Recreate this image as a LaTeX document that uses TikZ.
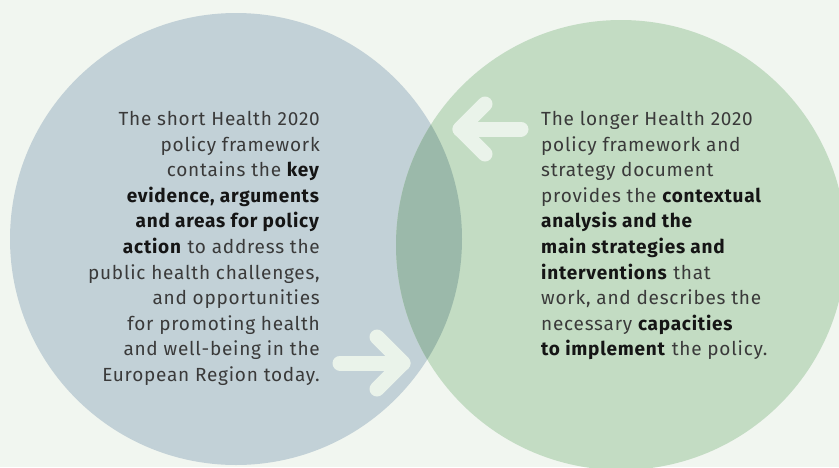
\documentclass[tikz,border=0pt]{standalone}
\usepackage{fontspec}
\setmainfont{Fira Sans}[LetterSpace=4]
\usetikzlibrary{positioning}
\definecolor{bgcol}{HTML}{F1F6F0}
\definecolor{shortcol}{HTML}{C2D1D7}
\definecolor{longcol}{HTML}{C3DCC3}
\definecolor{bothcol}{HTML}{9BB9AA}
\definecolor{arrowcol}{HTML}{EAF3EA}
\definecolor{textgrey}{HTML}{3A3A3A}
\definecolor{textdark}{HTML}{151515}
\newcommand{\hl}[1]{\textcolor{textdark}{\textbf{#1}}}

\begin{document}
\begin{tikzpicture}[x=1pt, y=-1pt,
    blurb/.style={inner sep=0pt, text=textgrey, font=\fontsize{19}{25.6}\selectfont},
    pointer/.style={draw=arrowcol, line width=15pt, line cap=round, line join=round}]
      \useasboundingbox (0,0) rectangle (839,467);
      \clip (0,0) rectangle (839,467);
      \fill[bgcol] (0,0) rectangle (839,467);
      % Define circles
      \coordinate (cs) at (236,239);
      \coordinate (cl) at (621,245);
      \fill[shortcol] (cs) circle[radius=226pt];
      \fill[longcol] (cl) circle[radius=225pt];
      \begin{scope}
        \clip (cs) circle[radius=226pt];
        \fill[bothcol] (cl) circle[radius=225pt];
      \end{scope}
      % Define arrows
      \coordinate (backtip) at (460,129);
      \coordinate (backtail) at (521,129);
      \coordinate (fwdtip) at (403,363);
      \coordinate (fwdtail) at (340,363);
      \draw[pointer] (485,104) -- (backtip) -- (485,154);
      \draw[pointer] (backtip) -- (backtail);
      \draw[pointer] (377,337) -- (fwdtip) -- (377,389);
      \draw[pointer] (fwdtail) -- (fwdtip);
      % Define texts
      \node[blurb, align=right, anchor=north east] (short) at (320,111) {The short Health 2020\\
        policy framework\\
        contains the \hl{key}\\
        \hl{evidence, arguments}\\
        \hl{and areas for policy}\\
        \hl{action} to address the\\
        public health challenges,\\
        and opportunities\\
        for promoting health\\
        and well-being in the\\
        European Region today.};
      \node[blurb, align=left, anchor=north west] (long) at (541,111) {The longer Health 2020\\
        policy framework and\\
        strategy document\\
        provides the \hl{contextual}\\
        \hl{analysis and the}\\
        \hl{main strategies and}\\
        \hl{interventions} that\\
        work, and describes the\\
        necessary \hl{capacities}\\
        \hl{to implement} the policy.};
    \end{tikzpicture}
\end{document}
